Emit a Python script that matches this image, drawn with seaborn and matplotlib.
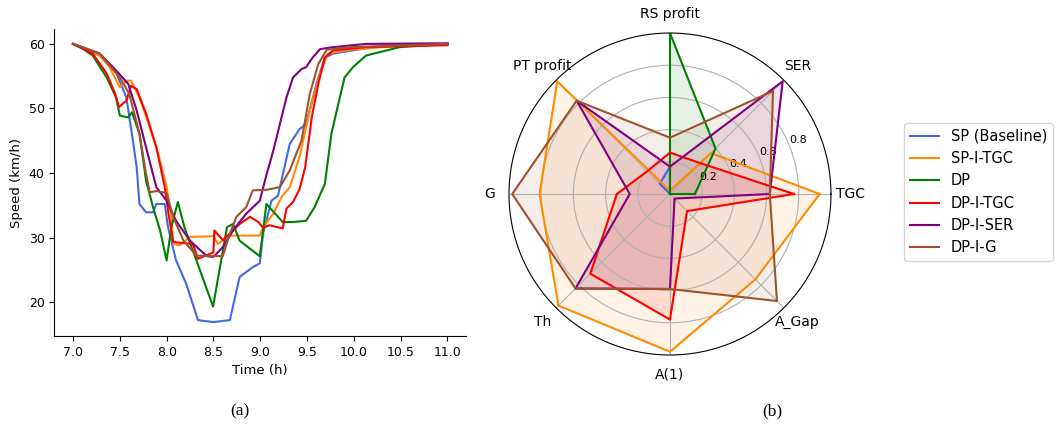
import numpy as np
import pandas as pd
import matplotlib
matplotlib.use("Agg")
import matplotlib.pyplot as plt
import seaborn as sns

# ---- (a) speed profiles ----
labels = ["SP (Baseline)", "SP-I-TGC", "DP", "DP-I-TGC", "DP-I-SER", "DP-I-G"]
colors = ["royalblue", "darkorange", "green", "red", "purple", "sienna"]

sp_t = [7.0, 7.1, 7.285, 7.46, 7.57, 7.64, 7.68, 7.71, 7.78, 7.855, 7.89, 7.98, 8.015, 8.1,
        8.21, 8.335, 8.5, 8.675, 8.78, 8.92, 8.995, 9.03, 9.12, 9.19, 9.315, 9.42, 9.49,
        9.6, 9.69, 9.78, 9.99, 10.31, 11.0]
sp_v = [60, 59.4, 58.2, 55.6, 51.7, 45, 40.9, 35.2, 33.9, 33.9, 35.2, 35.2, 31.6, 26.5,
        22.8, 17.2, 16.9, 17.2, 23.9, 25.4, 26, 30.6, 35.7, 36.5, 44.5, 46.8, 47.6,
        53.8, 57.9, 58.5, 59, 59.7, 60]

sptgc_t = [7.0, 7.1, 7.285, 7.39, 7.5, 7.57, 7.62, 7.71, 7.82, 7.91, 8.0, 8.05, 8.07, 8.14,
           8.25, 8.5, 8.55, 8.66, 8.995, 9.03, 9.14, 9.23, 9.315, 9.42, 9.53, 9.64, 9.72,
           9.96, 10.49, 11.0]
sptgc_v = [60, 59.4, 58.2, 56.4, 53.3, 54.3, 54.3, 51.7, 47.1, 43, 37.8, 33.2, 29.0, 28.8,
           30.1, 30.2, 29.0, 30.3, 30.3, 31.6, 33.7, 36.3, 37.8, 42.5, 49.7, 55.4, 58.5,
           59.1, 59.7, 59.9]

dp_t = [7.0, 7.1, 7.21, 7.36, 7.46, 7.5, 7.59, 7.63, 7.71, 7.78, 7.855, 7.93, 8.0, 8.05,
        8.12, 8.19, 8.496, 8.645, 8.71, 8.78, 8.995, 9.066, 9.24, 9.35, 9.49, 9.58, 9.69,
        9.76, 9.85, 9.9, 9.99, 10.13, 10.49, 11.0]
dp_v = [60, 59.3, 58.2, 54.8, 51.7, 48.9, 48.6, 49.4, 46.1, 38.8, 34.7, 31.1, 26.45, 31.6,
        35.5, 31.6, 19.3, 31.6, 32.1, 29.5, 27.1, 35.2, 32.4, 32.4, 32.6, 34.7, 38.3,
        46.1, 51.7, 54.8, 56.4, 58.2, 59.5, 60]

dptgc_t = [7.0, 7.1, 7.21, 7.36, 7.45, 7.49, 7.57, 7.62, 7.68, 7.78, 7.89, 7.98, 8.02,
           8.07, 8.28, 8.335, 8.5, 8.51, 8.6, 8.78, 8.89, 8.98, 9.03, 9.1, 9.24, 9.28, 9.35,
           9.42, 9.48, 9.55, 9.62, 9.69, 9.78, 10.13, 11.0]
dptgc_v = [60, 59.3, 58.5, 55.4, 52.3, 50.2, 51.2, 53.5, 53, 49.2, 44, 37.8, 33.7,
           29.3, 29.0, 26.7, 27.7, 31.1, 29.6, 32.1, 33.2, 32.4, 31.5, 31.9, 31.4, 34.5, 35.5,
           37.5, 40.9, 48.6, 53.8, 57.9, 59, 59.5, 59.8]

dpser_t = [7.0, 7.1, 7.285, 7.46, 7.59, 7.68, 7.78, 7.89, 8.0, 8.1, 8.25, 8.43, 8.5, 8.6,
           8.71, 8.85, 8.995, 9.07, 9.14, 9.21, 9.28, 9.35, 9.44, 9.49, 9.56, 9.64, 9.78,
           10.13, 11.0]
dpser_v = [60, 59.5, 58.5, 55.9, 53.8, 49.7, 44, 37.8, 35.7, 32.6, 29.5, 27.1, 27, 28.5,
           31.1, 33.7, 35.7, 39.9, 43.5, 47.6, 51.7, 54.8, 56.1, 56.4, 57.9, 59.2, 59.5,
           60, 60.1]

dpg_t = [7.0, 7.1, 7.285, 7.5, 7.6, 7.71, 7.78, 7.82, 7.89, 8.0, 8.07, 8.18, 8.32, 8.6,
         8.675, 8.745, 8.85, 8.92, 9.07, 9.17, 9.21, 9.315, 9.44, 9.53, 9.62, 9.71, 9.96, 11.0]
dpg_v = [60, 59.5, 58.5, 54.8, 52.3, 46.1, 39.9, 37.0, 37.2, 36.9, 33.2, 29.5, 27.2, 27.1,
         30.6, 33.2, 34.7, 37.3, 37.4, 37.7, 37.8, 40.4, 45, 52.3, 56.9, 59.1, 59.5, 60]

series_t = [sp_t, sptgc_t, dp_t, dptgc_t, dpser_t, dpg_t]
series_v = [sp_v, sptgc_v, dp_v, dptgc_v, dpser_v, dpg_v]

# ---- (b) radar ----
categories = ["TGC", "SER", "RS profit", "PT profit", "G", "Th", "A(1)", "A_Gap"]
radar_sp = [0.0, 0.0, 0.17, 0.09, 0.0, 0.0, 0.0, 0.0]
radar_sptgc = [0.93, 0.36, 0.02, 0.99, 0.81, 0.98, 0.98, 0.75]
radar_dp = [0.155, 0.40, 1.0, 0.0, 0.0, 0.0, 0.0, 0.0]
radar_dptgc = [0.77, 0.27, 0.257, 0.2, 0.33, 0.70, 0.78, 0.15]
radar_dpser = [0.62, 0.99, 0.17, 0.82, 0.25, 0.83, 0.59, 0.04]
radar_dpg = [0.62, 0.905, 0.35, 0.82, 0.98, 0.83, 0.59, 0.94]
radar_vals = [radar_sp, radar_sptgc, radar_dp, radar_dptgc, radar_dpser, radar_dpg]

frames = []
for name, t, v in zip(labels, series_t, series_v):
    frames.append(pd.DataFrame({"Time (h)": t, "Speed (km/h)": v, "method": name}))
df = pd.concat(frames, ignore_index=True)

fig = plt.figure(figsize=(10.56, 4.25), dpi=100)
ax1 = fig.add_axes([0.0514, 0.2094, 0.3901, 0.7216])
sns.lineplot(data=df, x="Time (h)", y="Speed (km/h)", hue="method", hue_order=labels,
             palette=colors, estimator=None, sort=False, linewidth=1.5, legend=False, ax=ax1)
sns.despine(ax=ax1)
ax1.set_xticks(np.arange(7.0, 11.01, 0.5))
ax1.tick_params(labelsize=9)
ax1.set_xlabel("Time (h)", fontsize=9.5)
ax1.set_ylabel("Speed (km/h)", fontsize=9.5)

ax2 = fig.add_axes([0.482, 0.1647, 0.3049, 0.7576], projection="polar")
angles = np.linspace(0, 2 * np.pi, len(categories), endpoint=False).tolist()
angles_c = angles + angles[:1]
for name, vals, col in zip(labels, radar_vals, colors):
    vv = vals + vals[:1]
    ax2.plot(angles_c, vv, color=col, linewidth=1.5, label=name)
    ax2.fill(angles_c, vv, color=col, alpha=0.1)
ax2.set_ylim(0, 1)
ax2.set_yticks([0.2, 0.4, 0.6, 0.8])
ax2.set_yticklabels(["0.2", "0.4", "0.6", "0.8"], fontsize=8)
ax2.set_xticks(angles)
ax2.set_xticklabels(categories, fontsize=10)

handles, hl = ax2.get_legend_handles_labels()
fig.legend(handles, hl, loc="upper left", bbox_to_anchor=(904 / 1056, 1 - 123 / 425),
           borderaxespad=0, fontsize=10.5)

fig.text(240 / 1056, 1 - 411 / 425, "(a)", ha="center", va="center",
         family="Liberation Serif", fontsize=12.5)
fig.text(772 / 1056, 1 - 411 / 425, "(b)", ha="center", va="center",
         family="Liberation Serif", fontsize=12.5)

fig.savefig("out.png", dpi=100)
